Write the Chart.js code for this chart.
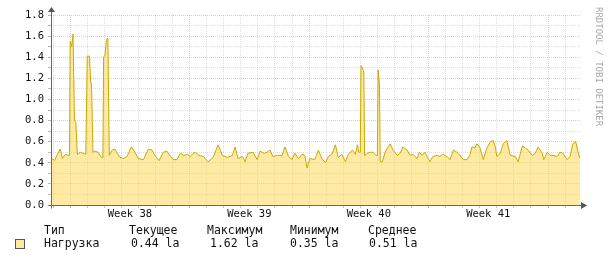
<!DOCTYPE html>
<html><head><meta charset="utf-8">
<script src="https://cdn.jsdelivr.net/npm/chart.js@4/dist/chart.umd.min.js"></script>
<style>
html,body{margin:0;padding:0;background:#fff;}
#wrap{position:relative;width:611px;height:259px;overflow:hidden;}
canvas{position:absolute;left:0;top:0;}
.t{position:absolute;font-family:'DejaVu Sans Mono',monospace;font-size:11.5px;color:#111;white-space:pre;line-height:1;}
#wm{position:absolute;left:594px;top:7px;writing-mode:vertical-rl;font-family:'DejaVu Sans Mono',monospace;font-size:9px;color:#a8a8a8;line-height:1;white-space:pre;}
#sw{position:absolute;left:15px;top:239px;width:8px;height:8px;background:#FFEAA0;border:1px solid #555;}
</style></head>
<body><div id="wrap"><canvas id="c" width="611" height="259"></canvas><div id="legend"></div><div id="sw"></div><div id="wm"></div></div>
<script>
// Time in hours from the start of Week 38
const hours = [-27,-22,-18,-14,-11,-7,-3,-1,0,2,4,6,8,10,14,18,22,24,27,29,30,32,35,39,44,46,47,49,51,53,55,59,63,66,70,75,80,86,91,96,103,110,115,120,125,131,136,141,145,150,155,160,165,169,173,176,181,187,194,201,208,214,221,228,232,236,242,246,250,257,263,267,273,277,281,285,292,298,302,307,312,316,321,326,330,333,337,344,349,354,359,363,368,373,377,382,387,391,397,401,404,406,408,409,411,413,414,418,422,426,430,432,433,435,436,439,443,447,450,454,460,464,468,474,478,482,488,491,495,499,502,506,510,516,520,524,530,534,539,544,548,553,558,562,565,569,572,576,581,586,591,595,598,600,605,609,614,619,626,630,636,640,644,650,654,658,664,666,671,675,679,685,689,693,699,703,707,711,714,717];
// Load average values
const load = [0.45,0.42,0.48,0.53,0.44,0.48,0.47,0.47,1.55,1.50,1.62,0.80,0.78,0.48,0.50,0.49,0.48,1.41,1.41,1.15,1.15,0.50,0.51,0.50,0.45,0.45,1.40,1.42,1.57,1.58,0.47,0.52,0.53,0.49,0.45,0.44,0.46,0.55,0.50,0.44,0.43,0.53,0.52,0.46,0.42,0.50,0.51,0.46,0.43,0.43,0.49,0.47,0.48,0.46,0.49,0.50,0.47,0.46,0.41,0.45,0.57,0.47,0.45,0.47,0.55,0.44,0.46,0.41,0.49,0.50,0.43,0.51,0.49,0.50,0.52,0.46,0.47,0.47,0.55,0.46,0.43,0.49,0.44,0.48,0.47,0.35,0.44,0.43,0.52,0.44,0.40,0.46,0.48,0.57,0.45,0.48,0.41,0.48,0.52,0.48,0.57,0.50,0.50,1.32,1.30,1.26,0.47,0.49,0.50,0.50,0.47,0.47,1.28,1.15,0.41,0.41,0.50,0.55,0.58,0.52,0.47,0.49,0.55,0.52,0.47,0.48,0.44,0.50,0.47,0.50,0.46,0.41,0.46,0.47,0.46,0.48,0.46,0.43,0.52,0.50,0.47,0.43,0.43,0.47,0.55,0.54,0.58,0.55,0.43,0.54,0.60,0.61,0.55,0.46,0.49,0.58,0.61,0.47,0.46,0.41,0.56,0.54,0.52,0.47,0.49,0.55,0.49,0.43,0.50,0.47,0.47,0.46,0.50,0.49,0.43,0.46,0.58,0.60,0.51,0.44];
const weekTicks = [84, 252, 420, 588];
const weekLabels = ['Week 38', 'Week 39', 'Week 40', 'Week 41'];
const legendHeaders = ['Тип', 'Текущее', 'Максимум', 'Минимум', 'Среднее'];
const seriesName = 'Нагрузка';
const statValues = ['0.44 la', '1.62 la', '0.35 la', '0.51 la'];
const watermark = 'RRDTOOL / TOBI OETIKER';

const X_MIN = -27, X_MAX = 717;
const MAJ = 'rgba(230,80,80,0.32)';
const MIN = 'rgba(140,140,140,0.28)';
const tickFont = {family: 'DejaVu Sans Mono', size: 10.5};

const dayTicks = [];
for (let h = -24; h <= X_MAX; h += 24) dayTicks.push(h);
const yTickVals = [];
for (let k = 0; k <= 18; k++) yTickVals.push(k / 10);

// legend (HTML text)
const lg = document.getElementById('legend');
const hdrX = [44, 129, 207, 290, 368];
const valX = [131, 210, 290, 369];
legendHeaders.forEach((t, i) => {
  const s = document.createElement('span'); s.className = 't'; s.textContent = t;
  s.style.left = hdrX[i] + 'px'; s.style.top = '225px'; lg.appendChild(s);
});
const sn = document.createElement('span'); sn.className = 't'; sn.textContent = seriesName;
sn.style.left = '44px'; sn.style.top = '238px'; lg.appendChild(sn);
statValues.forEach((t, i) => {
  const s = document.createElement('span'); s.className = 't'; s.textContent = t;
  s.style.left = valX[i] + 'px'; s.style.top = '238px'; lg.appendChild(s);
});
document.getElementById('wm').textContent = watermark;

const axisPlugin = {
  id: 'rrdAxes',
  afterDraw(chart) {
    const {ctx, chartArea: a} = chart;
    ctx.save();
    ctx.strokeStyle = '#6a6a6a'; ctx.fillStyle = '#555'; ctx.lineWidth = 1;
    const x0 = Math.round(a.left) + 0.5, y0 = Math.round(a.bottom) + 0.5;
    ctx.beginPath();
    ctx.moveTo(x0, y0 + 3); ctx.lineTo(x0, a.top - 6);
    ctx.moveTo(x0 - 3, y0); ctx.lineTo(a.right + 3, y0);
    ctx.stroke();
    ctx.beginPath();
    ctx.moveTo(x0 - 3.5, a.top - 3); ctx.lineTo(x0 + 3.5, a.top - 3); ctx.lineTo(x0, a.top - 8); ctx.closePath();
    ctx.fill();
    ctx.beginPath();
    ctx.moveTo(a.right + 1, y0 - 3.5); ctx.lineTo(a.right + 1, y0 + 3.5); ctx.lineTo(a.right + 7, y0); ctx.closePath();
    ctx.fill();
    ctx.restore();
  }
};

new Chart(document.getElementById('c'), {
  type: 'line',
  data: {
    datasets: [{
      label: seriesName,
      data: hours.map((h, i) => ({x: h, y: load[i]})),
      borderColor: '#C9A800',
      backgroundColor: 'rgba(255,214,80,0.52)',
      borderWidth: 1,
      fill: 'origin',
      pointRadius: 0,
      tension: 0
    }]
  },
  options: {
    responsive: false,
    animation: false,
    devicePixelRatio: 1,
    layout: {padding: {left: 0, right: 31, top: 15, bottom: 0}},
    plugins: {legend: {display: false}, tooltip: {enabled: false}},
    scales: {
      x: {
        type: 'linear', min: X_MIN, max: X_MAX, position: 'bottom', weight: 0,
        afterBuildTicks: s => { s.ticks = dayTicks.map(v => ({value: v})); },
        afterFit: s => { s.height = 3; },
        ticks: {display: false},
        grid: {
          color: c => (c.tick && c.tick.value % 168 === 0) ? MAJ : MIN,
          tickColor: c => (c.tick && c.tick.value % 168 === 0) ? 'rgba(230,60,60,0.5)' : 'rgba(128,128,128,0.45)',
          tickLength: 3, drawTicks: true
        },
        border: {display: false, dash: [1, 1]}
      },
      xw: {
        type: 'linear', min: X_MIN, max: X_MAX, position: 'bottom', weight: 1,
        afterBuildTicks: s => { s.ticks = weekTicks.map(v => ({value: v})); },
        afterFit: s => { s.height = 51; },
        ticks: {
          callback: (v, i) => weekLabels[i],
          font: tickFont, color: '#111', padding: 0,
          maxRotation: 0, autoSkip: false
        },
        grid: {display: false, drawTicks: false},
        border: {display: false}
      },
      y: {
        min: 0, max: 1.8,
        afterBuildTicks: s => { s.ticks = yTickVals.map(v => ({value: v})); },
        afterFit: s => { s.width = 51; },
        ticks: {
          callback: v => (Math.round(v * 10) % 2 === 0 ? v.toFixed(1) : ''),
          font: tickFont, color: '#111', padding: 4, autoSkip: false
        },
        grid: {
          color: c => (c.tick && Math.round(c.tick.value * 10) % 2 === 0) ? MAJ : MIN,
          tickColor: 'rgba(128,128,128,0.55)',
          tickLength: 3, drawTicks: true
        },
        border: {display: false, dash: [1, 1]}
      }
    }
  },
  plugins: [axisPlugin]
});
</script>
</body></html>
